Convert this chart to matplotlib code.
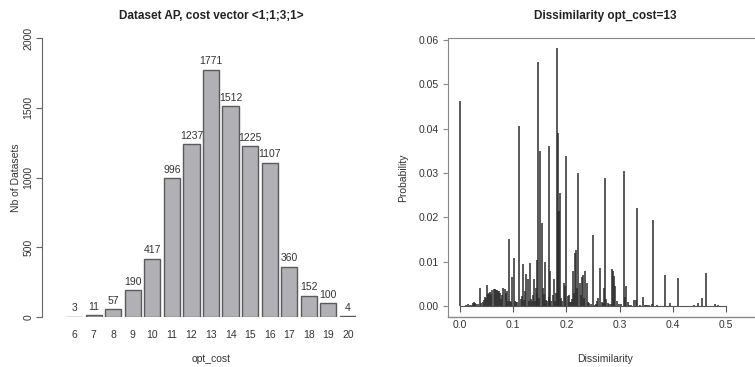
import numpy as np
import matplotlib.pyplot as plt
from matplotlib.lines import Line2D

plt.rcParams['font.family'] = ['Liberation Sans', 'DejaVu Sans']

# left panel: number of datasets per optimal cost
costs = [6, 7, 8, 9, 10, 11, 12, 13, 14, 15, 16, 17, 18, 19, 20]
counts = [3, 11, 57, 190, 417, 996, 1237, 1771, 1512, 1225, 1107, 360, 152, 100, 4]

# right panel: dissimilarity distribution for opt_cost=13 (main spikes)
main_x = [0.000, 0.0376, 0.0508, 0.0815, 0.0920, 0.0975, 0.1010, 0.1111, 0.1180,
          0.1220, 0.1250, 0.1270, 0.1310, 0.1390, 0.1429, 0.1455, 0.1463, 0.1510,
          0.1538, 0.1560, 0.1600, 0.1667, 0.1700, 0.1760, 0.1800, 0.1818, 0.1840,
          0.1850, 0.1860, 0.1875, 0.1950, 0.2000, 0.2040, 0.2120, 0.2160, 0.2180,
          0.2222, 0.2250, 0.2290, 0.2310, 0.2350, 0.2380, 0.2500, 0.2560, 0.2600,
          0.2630, 0.2700, 0.2727, 0.2750, 0.2860, 0.2880, 0.2900, 0.2920, 0.3077,
          0.3100, 0.3120, 0.3150, 0.3270, 0.3300, 0.3333, 0.3440, 0.3500, 0.3560,
          0.3600, 0.3636, 0.3700, 0.3846, 0.3950, 0.4091, 0.4300, 0.4400, 0.4480,
          0.4550, 0.4615, 0.4800, 0.4850, 0.5170, 0.5230, 0.5370, 0.5430]
main_p = [0.0463, 0.0040, 0.0047, 0.0041, 0.0151, 0.0066, 0.0108, 0.0407, 0.0094,
          0.0033, 0.0072, 0.0062, 0.0098, 0.0061, 0.0040, 0.0104, 0.0550, 0.0349,
          0.0187, 0.0040, 0.0100, 0.0362, 0.0078, 0.0060, 0.0030, 0.0582, 0.0390,
          0.0215, 0.0215, 0.0256, 0.0052, 0.0338, 0.0025, 0.0078, 0.0120, 0.0127,
          0.0300, 0.0053, 0.0065, 0.0071, 0.0078, 0.0053, 0.0160, 0.0005, 0.0018,
          0.0086, 0.0040, 0.0289, 0.0015, 0.0083, 0.0078, 0.0067, 0.0045, 0.0304,
          0.0020, 0.0046, 0.0008, 0.0013, 0.0013, 0.0220, 0.0020, 0.0003, 0.0003,
          0.0004, 0.0195, 0.0003, 0.0069, 0.0006, 0.0063, 0.0001, 0.0003, 0.0007,
          0.0019, 0.0074, 0.0004, 0.0002, 0.0001, 0.0001, 0.0001, 0.0001]

# minor spikes
minor_x = [0.012, 0.015, 0.018, 0.022, 0.025, 0.027, 0.029, 0.031, 0.034, 0.040,
           0.043, 0.045, 0.047, 0.049, 0.053, 0.055, 0.057, 0.059, 0.061, 0.063,
           0.065, 0.067, 0.069, 0.071, 0.073, 0.075, 0.077, 0.079, 0.084, 0.086,
           0.088, 0.090, 0.094, 0.096, 0.103, 0.106, 0.108, 0.114, 0.116, 0.121,
           0.129, 0.133, 0.135, 0.137, 0.141, 0.144, 0.149, 0.158, 0.162, 0.164,
           0.168, 0.172, 0.174, 0.178, 0.190, 0.192, 0.197, 0.203, 0.206, 0.208,
           0.210, 0.214, 0.220, 0.227, 0.233, 0.240, 0.243, 0.246, 0.253, 0.258,
           0.266, 0.268, 0.278, 0.281, 0.284, 0.295, 0.298, 0.302, 0.318, 0.322,
           0.338, 0.347, 0.352]
minor_p = [0.0003, 0.0004, 0.0002, 0.0003, 0.0007, 0.0008, 0.0006, 0.0004, 0.0005, 0.0006,
           0.0009, 0.0013, 0.0021, 0.0018, 0.0028, 0.0030, 0.0032, 0.0026, 0.0036, 0.0038,
           0.0039, 0.0037, 0.0035, 0.0034, 0.0033, 0.0029, 0.0016, 0.0024, 0.0038, 0.0030,
           0.0033, 0.0012, 0.0011, 0.0009, 0.0012, 0.0010, 0.0009, 0.0016, 0.0022, 0.0014,
           0.0011, 0.0016, 0.0012, 0.0025, 0.0012, 0.0030, 0.0018, 0.0026, 0.0014, 0.0012,
           0.0020, 0.0011, 0.0025, 0.0012, 0.0018, 0.0011, 0.0045, 0.0022, 0.0010, 0.0009,
           0.0015, 0.0030, 0.0040, 0.0025, 0.0018, 0.0009, 0.0006, 0.0004, 0.0003, 0.0012,
           0.0009, 0.0006, 0.0007, 0.0005, 0.0004, 0.0012, 0.0004, 0.0005, 0.0003, 0.0003,
           0.0003, 0.0002, 0.0003]

W, H = 755, 367
fig = plt.figure(figsize=(W / 100, H / 100), dpi=100)
txt = '#333333'

# ---- left: barplot
ax1 = fig.add_axes([66 / W, 50 / H, 290 / W, 279 / H])
pos = 0.7 + 1.2 * np.arange(len(costs))
ax1.bar(pos, counts, width=1.0, color='#b1b1b5', edgecolor='#5a5a5a', linewidth=1.0)
for p, c in zip(pos, counts):
    ax1.annotate(str(c), (p, c), xytext=(0, 2.5), textcoords='offset points',
                 ha='center', va='bottom', fontsize=7.5, color=txt)
ax1.set_xlim(0.2, 18.0)
ax1.set_ylim(0, 2000)
for s in ['top', 'right', 'bottom']:
    ax1.spines[s].set_visible(False)
ax1.spines['left'].set_position(('outward', 17))
ax1.spines['left'].set_bounds(0, 2000)
ax1.spines['left'].set_color('#666666')
ax1.set_yticks([0, 500, 1000, 1500, 2000])
ax1.set_yticklabels(['0', '500', '1000', '1500', '2000'], rotation=90, va='center')
ax1.tick_params(axis='y', length=4.3, color='#666666', labelsize=7.5, labelcolor=txt, pad=2)
ax1.set_xticks(pos)
ax1.set_xticklabels([str(c) for c in costs])
ax1.tick_params(axis='x', length=0, labelsize=7.5, labelcolor=txt, pad=9)
ax1.set_title('Dataset AP, cost vector <1;1;3;1>', fontsize=8.5, fontweight='bold',
              color='#222222', pad=14)
ax1.set_xlabel('opt_cost', fontsize=7.5, color=txt)
ax1.xaxis.set_label_coords(0.5, -37 / 279)
ax1.set_ylabel('Nb of Datasets', fontsize=7.5, color=txt)
ax1.yaxis.set_label_coords(-45 / 290, 0.5)

# ---- right: dissimilarity spikes
ax2 = fig.add_axes([448 / W, 50 / H, 314 / W, 279 / H])
ax2.vlines(minor_x, 0, minor_p, color='#2b2b2b', linewidth=1.1)
ax2.vlines(main_x, 0, main_p, color='#2b2b2b', linewidth=1.1)
ax2.set_xlim(-0.02256, 0.5677)
ax2.set_ylim(-0.00248, 0.06045)
for s in ['top', 'right', 'left']:
    ax2.spines[s].set_color('#888888')
ax2.spines['bottom'].set_position(('data', 0))
ax2.spines['bottom'].set_bounds(0, 0.5)
ax2.spines['bottom'].set_color('#555555')
ax2.add_line(Line2D([0, 1], [0, 0], transform=ax2.transAxes, color='#888888',
                    linewidth=1.0, clip_on=False))
ax2.set_xticks([0.0, 0.1, 0.2, 0.3, 0.4, 0.5])
ax2.set_xticklabels(['0.0', '0.1', '0.2', '0.3', '0.4', '0.5'])
ax2.tick_params(axis='x', length=4.3, color='#555555', labelsize=7.5, labelcolor=txt, pad=6)
ax2.set_yticks([0.0, 0.01, 0.02, 0.03, 0.04, 0.05, 0.06])
ax2.set_yticklabels(['0.00', '0.01', '0.02', '0.03', '0.04', '0.05', '0.06'])
ax2.tick_params(axis='y', length=3.5, color='#888888', labelsize=7.5, labelcolor=txt, pad=3)
ax2.set_title('Dissimilarity opt_cost=13', fontsize=8.5, fontweight='bold',
              color='#222222', pad=14)
ax2.set_xlabel('Dissimilarity', fontsize=7.5, color=txt)
ax2.xaxis.set_label_coords(0.5, -37 / 279)
ax2.set_ylabel('Probability', fontsize=7.5, color=txt)
ax2.yaxis.set_label_coords(-40 / 314, 0.5)

fig.savefig('out.png', dpi=100)
